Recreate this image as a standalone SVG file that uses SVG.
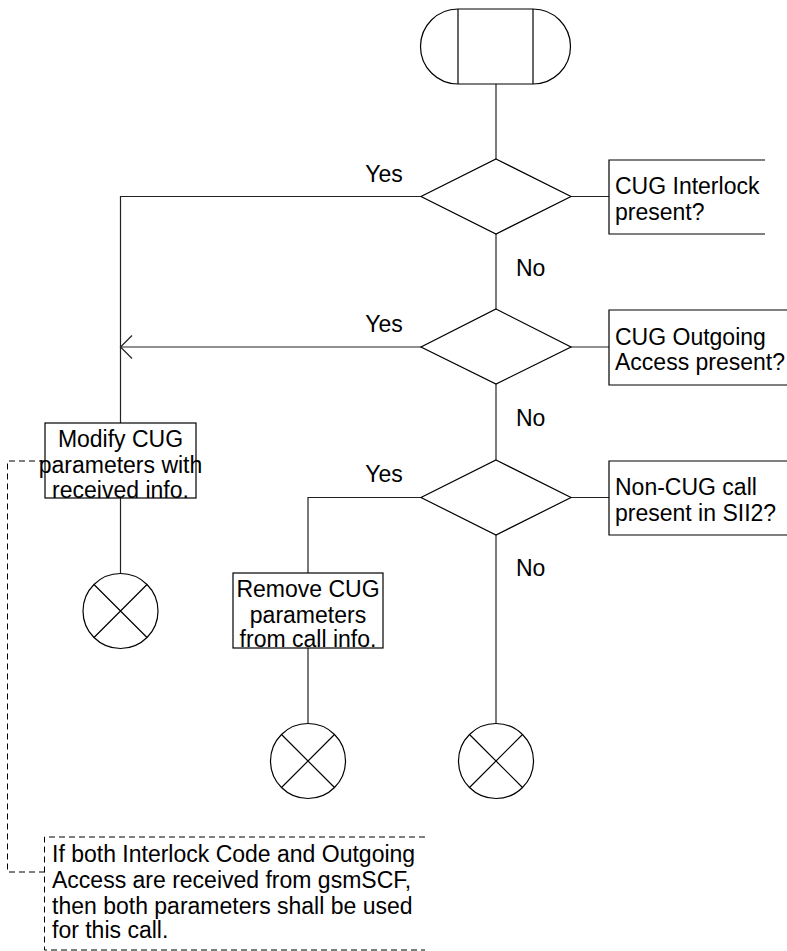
<svg xmlns="http://www.w3.org/2000/svg" width="787" height="951" viewBox="0 0 787 951">
<style>
.s{fill:#fff;stroke:#000;stroke-width:1.2}
.o{fill:none;stroke:#000;stroke-width:1.2}
.c{fill:none;stroke:#222;stroke-width:1.2}
.d{fill:none;stroke:#000;stroke-width:1;stroke-dasharray:6 4}
text{font-family:"Liberation Sans",Arial,sans-serif;font-size:23px;fill:#000}
.m{text-anchor:middle}
</style>
<g id="connectors">
<line class="c" x1="496" y1="84" x2="496" y2="159"/>
<line class="c" x1="496" y1="234" x2="496" y2="309"/>
<line class="c" x1="496" y1="384" x2="496" y2="460"/>
<line class="c" x1="496" y1="535" x2="496" y2="723"/>
<polyline class="c" points="421,196.5 120.5,196.5 120.5,423"/>
<line class="c" x1="421" y1="347" x2="120.5" y2="347"/>
<polyline class="c" points="132,335.5 120.5,347 132,358.5"/>
<polyline class="c" points="421,497.5 308,497.5 308,573"/>
<line class="c" x1="120.5" y1="498" x2="120.5" y2="573"/>
<line class="c" x1="308" y1="648" x2="308" y2="723"/>
<line class="c" x1="571" y1="196.5" x2="609" y2="196.5"/>
<line class="c" x1="571" y1="347" x2="609" y2="347"/>
<line class="c" x1="571" y1="497.5" x2="609" y2="497.5"/>
<polyline class="d" points="45,461 7.5,461 7.5,872 44.5,872"/>
</g>
<g id="start">
<path class="s" d="M458,9 H533 A37.5,37.5 0 0 1 533,84 H458 A37.5,37.5 0 0 1 458,9 Z"/>
<line class="o" x1="458" y1="9" x2="458" y2="84"/>
<line class="o" x1="533" y1="9" x2="533" y2="84"/>
</g>
<g id="decision1">
<polygon class="s" points="496,159 571,196.5 496,234 421,196.5"/>
<text x="384" y="182" class="m">Yes</text>
<text x="516" y="276">No</text>
</g>
<g id="comment1">
<polyline class="o" points="765,160 609,160 609,234 765,234"/>
<text x="615" y="194">CUG Interlock</text>
<text x="615" y="220">present?</text>
</g>
<g id="decision2">
<polygon class="s" points="496,309 571,347 496,384 421,347"/>
<text x="384" y="332" class="m">Yes</text>
<text x="516" y="426">No</text>
</g>
<g id="comment2">
<polyline class="o" points="787,310 609,310 609,385 787,385"/>
<text x="615" y="345">CUG Outgoing</text>
<text x="615" y="370">Access present?</text>
</g>
<g id="decision3">
<polygon class="s" points="496,460 571,497.5 496,535 421,497.5"/>
<text x="384" y="482" class="m">Yes</text>
<text x="516" y="576">No</text>
</g>
<g id="comment3">
<polyline class="o" points="787,461 609,461 609,535 787,535"/>
<text x="615" y="495">Non-CUG call</text>
<text x="615" y="521">present in SII2?</text>
</g>
<g id="modify">
<rect class="s" x="45" y="423" width="151" height="75"/>
<text x="120.5" y="447" class="m">Modify CUG</text>
<text x="120.5" y="473" class="m">parameters with</text>
<text x="120.5" y="498" class="m">received info.</text>
</g>
<g id="remove">
<rect class="s" x="233" y="573" width="150" height="75"/>
<text x="308" y="597" class="m">Remove CUG</text>
<text x="308" y="623" class="m">parameters</text>
<text x="308" y="647" class="m">from call info.</text>
</g>
<g id="stop1">
<circle class="s" cx="120.5" cy="611" r="37.5"/>
<path class="o" d="M94,584.5 L147,637.5 M147,584.5 L94,637.5"/>
</g>
<g id="stop2">
<circle class="s" cx="308" cy="761" r="37.5"/>
<path class="o" d="M281.5,734.5 L334.5,787.5 M334.5,734.5 L281.5,787.5"/>
</g>
<g id="stop3">
<circle class="s" cx="496" cy="761" r="37.5"/>
<path class="o" d="M469.5,734.5 L522.5,787.5 M522.5,734.5 L469.5,787.5"/>
</g>
<g id="note">
<polyline class="d" points="425,837 44.5,837 44.5,950 425,950"/>
<text x="52" y="862">If both Interlock Code and Outgoing</text>
<text x="52" y="888">Access are received from gsmSCF,</text>
<text x="52" y="914">then both parameters shall be used</text>
<text x="52" y="938">for this call.</text>
</g>
</svg>
